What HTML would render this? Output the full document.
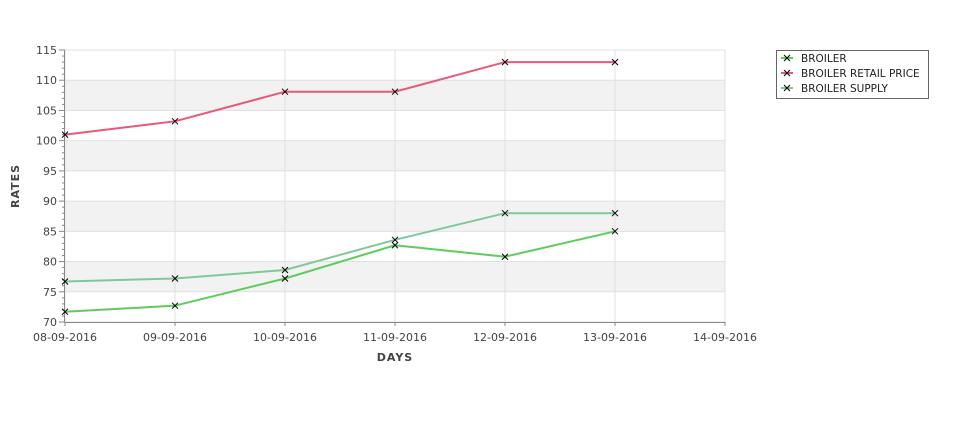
<!DOCTYPE html>
<html><head><meta charset="utf-8"><style>body{margin:0;background:#fff}svg{display:block}text{font-family:"DejaVu Sans","Liberation Sans",sans-serif;fill:#444}</style></head>
<body>
<svg id="s" width="975" height="429" xmlns="http://www.w3.org/2000/svg"></svg>
<script>
const s=document.getElementById('s');let h='';
const X0=65,X1=725,Y0=322,Y1=50;
const y=v=>Y0-(v-70)*(Y0-Y1)/45, x=i=>X0+110*i;
// bands
[[75,80],[85,90],[95,100],[105,110]].forEach(b=>h+=`<rect x="${X0}" y="${y(b[1])}" width="${X1-X0}" height="${y(b[0])-y(b[1])}" fill="#f2f2f2"/>`);
for(let v=70;v<=115;v+=5)h+=`<line x1="${X0}" x2="${X1}" y1="${y(v)}" y2="${y(v)}" stroke="#e0e0e0"/>`;
for(let i=0;i<=6;i++)h+=`<line x1="${x(i)}" x2="${x(i)}" y1="${Y1}" y2="${Y0}" stroke="#e0e0e0"/>`;
// axes
h+=`<line x1="${X0-0.5}" x2="${X0-0.5}" y1="${Y1}" y2="${Y0}" stroke="#888"/><line x1="${X0}" x2="${X1}" y1="${Y0+0.5}" y2="${Y0+0.5}" stroke="#888"/>`;
for(let v=70;v<=115;v++){const t=v%5==0?6:3;h+=`<line x1="${X0-t}" x2="${X0}" y1="${y(v)}" y2="${y(v)}" stroke="#888"/>`;}
for(let v=70;v<=115;v+=5)h+=`<text x="${X0-8}" y="${y(v)+4}" font-size="11" text-anchor="end">${v}</text>`;
const d=['08','09','10','11','12','13','14'];
for(let i=0;i<=6;i++){h+=`<line x1="${x(i)}" x2="${x(i)}" y1="${Y0}" y2="${Y0+4}" stroke="#888"/><text x="${x(i)}" y="${Y0+19}" font-size="11" text-anchor="middle">${d[i]}-09-2016</text>`;}
h+=`<text x="395" y="361" font-size="11" font-weight="bold" text-anchor="middle" letter-spacing="1">DAYS</text>`;
h+=`<text transform="translate(19,186) rotate(-90)" font-size="11" font-weight="bold" text-anchor="middle" letter-spacing="1">RATES</text>`;
const S=[[[101,103.2,108.1,108.1,113,113],'#e8587a'],[[76.7,77.2,78.6,83.6,88,88],'#80c898'],[[71.7,72.7,77.2,82.7,80.8,85],'#5ccc5c']];
S.forEach(([a,c])=>{h+=`<polyline fill="none" stroke="${c}" stroke-width="2" points="${a.map((v,i)=>x(i)+','+y(v)).join(' ')}"/>`;
a.forEach((v,i)=>{const px=x(i),py=y(v);h+=`<path d="M${px-3} ${py-3}L${px+3} ${py+3}M${px-3} ${py+3}L${px+3} ${py-3}" stroke="#000" stroke-width="1"/>`;});});
// legend
h+=`<rect x="776.5" y="50.5" width="152" height="48" fill="#fff" stroke="#666"/>`;
[['BROILER','#5ccc5c'],['BROILER RETAIL PRICE','#e8587a'],['BROILER SUPPLY','#80c898']].forEach(([t,c],i)=>{const ly=58+15*i;
h+=`<line x1="781" x2="793" y1="${ly}" y2="${ly}" stroke="${c}" stroke-width="2"/><path d="M784 ${ly-3}L790 ${ly+3}M784 ${ly+3}L790 ${ly-3}" stroke="#000"/><text x="801" y="${ly+4}" font-size="10.5" style="fill:#222">${t}</text>`;});
s.innerHTML=h;
</script>
</body></html>
